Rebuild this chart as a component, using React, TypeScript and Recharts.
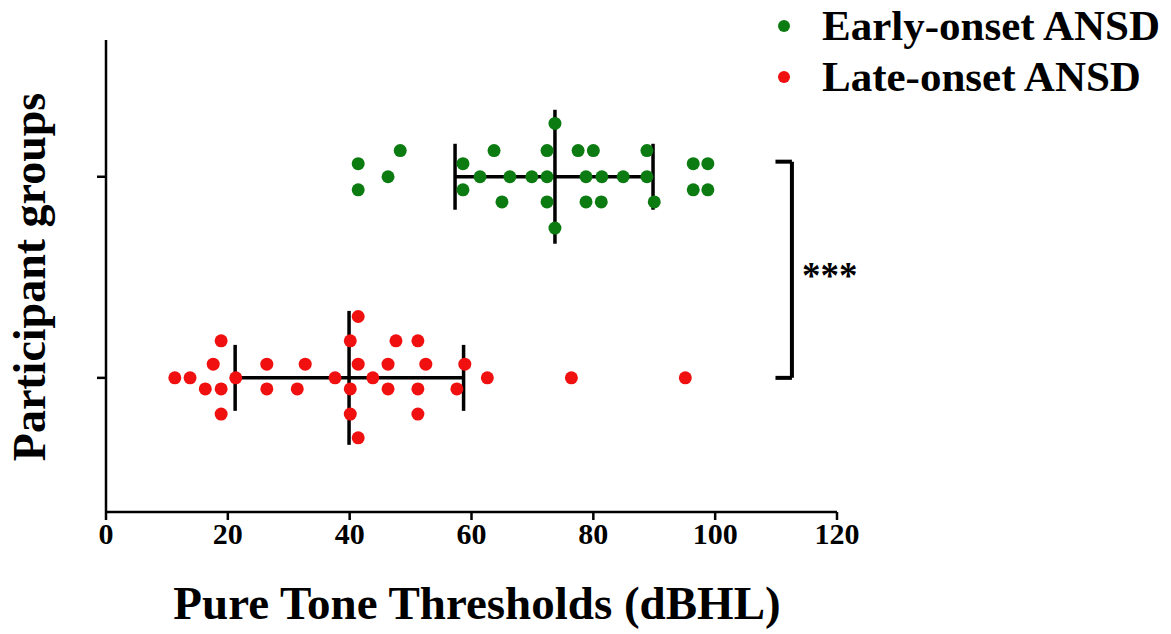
import React from 'react';
import { ScatterChart, Scatter, XAxis, YAxis, ReferenceLine, Label } from 'recharts';

// ---- data ----
const xTicks = [0, 20, 40, 60, 80, 100, 120];
const groupTicks = [1, 2];
const seriesNames = ['Early-onset ANSD', 'Late-onset ANSD'];

// Early-onset ANSD (group position 2): thresholds and beeswarm offsets
const earlyValues = [41.4, 41.4, 48.3, 46.3, 58.6, 58.6, 61.4, 63.7, 66.3, 65.0, 69.9, 72.4, 72.4, 72.4, 73.7, 73.7, 77.5, 80.0, 78.8, 81.4, 78.8, 81.3, 84.9, 88.8, 88.8, 90.0, 96.4, 98.8, 96.4, 98.8];
const earlyJitter = [0.065, -0.065, 0.13, 0, 0.065, -0.065, 0, 0.13, 0, -0.125, 0, 0.13, 0, -0.125, 0.265, -0.255, 0.13, 0.13, 0, 0, -0.125, -0.125, 0, 0.13, 0, -0.125, 0.065, 0.065, -0.065, -0.065];

// Late-onset ANSD (group position 1)
const lateValues = [11.3, 13.8, 21.3, 37.6, 43.8, 62.6, 76.4, 95.1, 18.9, 40.1, 47.6, 51.2, 41.4, 17.6, 26.4, 32.7, 41.4, 46.3, 52.5, 58.9, 16.3, 18.9, 26.4, 31.4, 40.1, 46.3, 51.2, 57.6, 18.9, 40.1, 51.2, 41.4];
const lateJitter = [0, 0, 0, 0, 0, 0, 0, 0, 0.184, 0.184, 0.184, 0.184, 0.305, 0.068, 0.068, 0.068, 0.068, 0.068, 0.068, 0.068, -0.055, -0.055, -0.055, -0.055, -0.055, -0.055, -0.055, -0.055, -0.18, -0.18, -0.18, -0.298];

// summary: median with range bars
const groupPos = [2, 1];
const medians = [73.7, 39.9];
const lowers = [57.3, 21.2];
const uppers = [89.8, 58.7];

// significance bracket
const bracketX = [109.9, 112.6];
const bracketY = [2.075, 1.0];
const sigLabel = '***';

const colors = ['#0c7c12', '#f01010'];

const earlyData = earlyValues.map((v, i) => ({ x: v, y: 2 + earlyJitter[i] }));
const lateData = lateValues.map((v, i) => ({ x: v, y: 1 + lateJitter[i] }));

const FONT = '"Liberation Serif", "Times New Roman", serif';
const MED_HALF = 0.333;
const CAP_HALF = 0.164;

const dot = (color: string) => (props: any) => (
  <circle cx={props.cx} cy={props.cy} r={6.5} fill={color} />
);

export default function App() {
  return (
    <div style={{ position: 'absolute', left: 0, top: 0, width: 1171, height: 634, background: '#fff', fontFamily: FONT }}>
      <ScatterChart width={1171} height={634} margin={{ top: 40, right: 334, bottom: 0, left: 0 }}>
        <XAxis
          type="number"
          dataKey="x"
          domain={[0, 120]}
          ticks={xTicks}
          height={122}
          axisLine={{ stroke: '#000', strokeWidth: 2.5 }}
          tickLine={{ stroke: '#000', strokeWidth: 2.5 }}
          tickSize={8}
          tickMargin={3}
          tick={{ fill: '#000', fontSize: 30, fontWeight: 'bold', fontFamily: FONT }}
          interval={0}
        >
          <Label
            content={() => (
              <text x={477} y={619} textAnchor="middle" fontFamily={FONT} fontWeight="bold" fontSize={47} fill="#000">
                Pure Tone Thresholds (dBHL)
              </text>
            )}
          />
        </XAxis>
        <YAxis
          type="number"
          dataKey="y"
          domain={[0.333, 2.68]}
          ticks={groupTicks}
          width={106}
          axisLine={{ stroke: '#000', strokeWidth: 2.5 }}
          tickLine={{ stroke: '#000', strokeWidth: 2.5 }}
          tickSize={9}
          tickFormatter={() => ''}
        >
          <Label
            content={() => (
              <text x={0} y={0} transform="translate(45,277) rotate(-90)" textAnchor="middle" fontFamily={FONT} fontWeight="bold" fontSize={46} fill="#000">
                Participant groups
              </text>
            )}
          />
        </YAxis>

        {groupPos.map((g, i) => (
          <ReferenceLine key={'h' + i} segment={[{ x: lowers[i], y: g }, { x: uppers[i], y: g }]} stroke="#000" strokeWidth={3.5} />
        ))}
        {groupPos.map((g, i) => (
          <ReferenceLine key={'m' + i} segment={[{ x: medians[i], y: g - MED_HALF }, { x: medians[i], y: g + MED_HALF }]} stroke="#000" strokeWidth={3.5} />
        ))}
        {groupPos.map((g, i) => (
          <ReferenceLine key={'l' + i} segment={[{ x: lowers[i], y: g - CAP_HALF }, { x: lowers[i], y: g + CAP_HALF }]} stroke="#000" strokeWidth={3.5} />
        ))}
        {groupPos.map((g, i) => (
          <ReferenceLine key={'u' + i} segment={[{ x: uppers[i], y: g - CAP_HALF }, { x: uppers[i], y: g + CAP_HALF }]} stroke="#000" strokeWidth={3.5} />
        ))}

        <ReferenceLine segment={[{ x: bracketX[0], y: bracketY[0] }, { x: bracketX[1], y: bracketY[0] }]} stroke="#000" strokeWidth={4} />
        <ReferenceLine segment={[{ x: bracketX[0], y: bracketY[1] }, { x: bracketX[1], y: bracketY[1] }]} stroke="#000" strokeWidth={4} />
        <ReferenceLine
          segment={[{ x: bracketX[1], y: bracketY[0] }, { x: bracketX[1], y: bracketY[1] }]}
          stroke="#000"
          strokeWidth={4}
          label={{ value: sigLabel, position: 'right', offset: 10, fill: '#000', fontSize: 37, fontWeight: 'bold', fontFamily: FONT, dy: 5 }}
        />

        <Scatter name={seriesNames[0]} data={earlyData} fill={colors[0]} shape={dot(colors[0])} isAnimationActive={false} />
        <Scatter name={seriesNames[1]} data={lateData} fill={colors[1]} shape={dot(colors[1])} isAnimationActive={false} />
      </ScatterChart>

      <div style={{ position: 'absolute', left: 772, top: 0 }}>
        {seriesNames.map((n, i) => (
          <div key={n} style={{ display: 'flex', alignItems: 'center', height: 51 }}>
            <span style={{ display: 'inline-block', width: 12, height: 12, borderRadius: 6, background: colors[i], marginLeft: 6, marginRight: 32 }} />
            <span style={{ fontFamily: FONT, fontWeight: 'bold', fontSize: 43, color: '#000', lineHeight: '51px', whiteSpace: 'nowrap' }}>{n}</span>
          </div>
        ))}
      </div>
    </div>
  );
}
